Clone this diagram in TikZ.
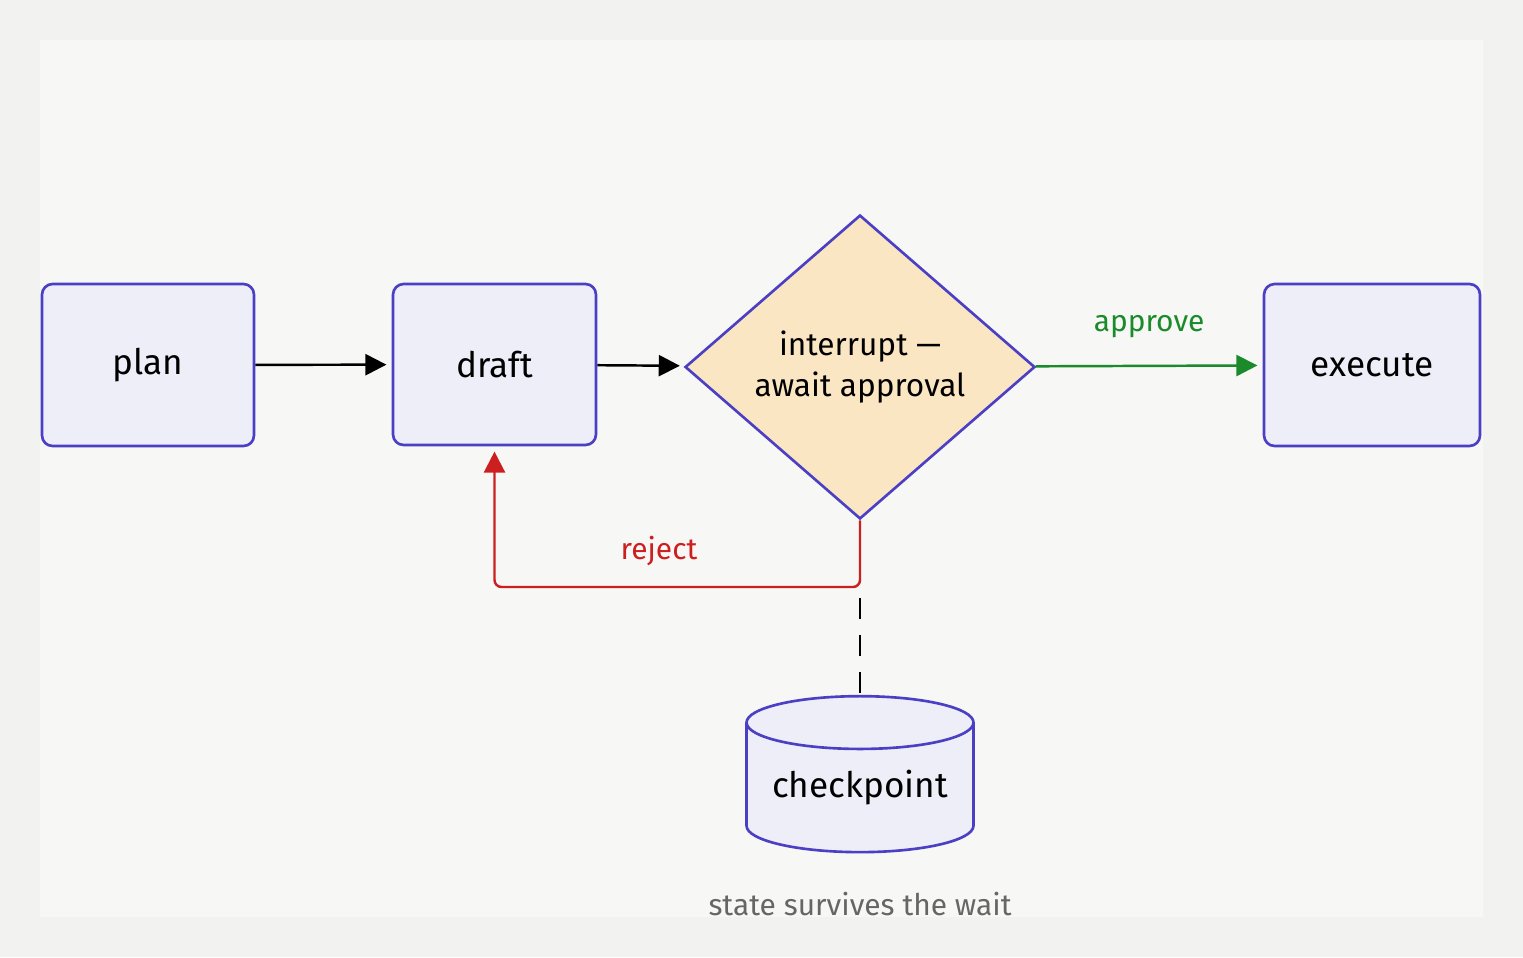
\documentclass[tikz,border=0pt]{standalone}
\usepackage{fontspec}
\setmainfont{Fira Sans}
\usetikzlibrary{shapes.geometric,arrows.meta}
\definecolor{pagebg}{HTML}{F2F2F0}
\definecolor{panelbg}{HTML}{F7F7F6}
\definecolor{boxfill}{HTML}{EEEEF8}
\definecolor{boxline}{HTML}{4B3FC4}
\definecolor{gatefill}{HTML}{FBE6C3}
\definecolor{rejectred}{HTML}{CC1F1F}
\definecolor{approvegreen}{HTML}{1A8A2A}
\tikzset{
  stage/.style={draw=boxline, fill=boxfill, line width=1.5pt, rounded corners=6pt,
    font=\fontsize{20}{24}\selectfont},
  flow/.style={line width=1.4pt, shorten >=3pt, -{Triangle[length=12pt,width=12pt]}},
}
\begin{document}
\begin{tikzpicture}[x=0.02cm, y=-0.02cm]
			%%%%% START %%%%%
			
			\fill[pagebg] (0, 0) rectangle (1523, 957);
			\fill[panelbg] (40, 40) rectangle (1483, 917);
			
			\node[stage, minimum width=4.24cm, minimum height=3.24cm] (plan) at (148, 365) {plan};
			\node[stage, minimum width=4.06cm, minimum height=3.22cm] (draft) at (494.5, 364.5) {draft};
			\node[stage, minimum width=4.32cm, minimum height=3.24cm] (execute) at (1372, 365) {execute};
			
			\node[diamond, draw=boxline, fill=gatefill, line width=1.5pt, inner sep=0pt,
			  minimum width=7cm, minimum height=6.08cm, align=center,
			  font=\fontsize{18}{23}\selectfont] (gate) at (860, 367) {interrupt —\\await approval};
			
			\node[cylinder, shape border rotate=90, draw=boxline, fill=boxfill, line width=1.5pt,
			  aspect=0.3, minimum width=4.54cm, minimum height=3.12cm, inner sep=0pt,
			  font=\fontsize{20}{24}\selectfont] (store) at (860, 788) {checkpoint};
			\node[text=black!60, font=\fontsize{17}{20}\selectfont] (note) at (860, 904) {state survives the wait};
			
			\draw[flow] (plan) -- (draft);
			\draw[flow] (draft) -- (gate);
			\draw[flow, draw=approvegreen, fill=approvegreen] (gate) -- 
			  node[above=12pt, text=approvegreen, font=\fontsize{17}{20}\selectfont] {approve} (execute);
			
			\coordinate (bend) at (860, 587);
			\draw[flow, draw=rejectred, rounded corners=4pt] (gate.south) -- (bend) -- 
			  node[above=8pt, pos=0.55, text=rejectred, font=\fontsize{17}{20}\selectfont] {reject}
			  (draft.south |- bend) -- (draft.south);
			
			\coordinate (tap) at (860, 598);
			\draw[line width=1.4pt, dash pattern=on 12pt off 9pt] (tap) -- (store.top);
			
			%%%%% END %%%%%
\end{tikzpicture}
\end{document}
